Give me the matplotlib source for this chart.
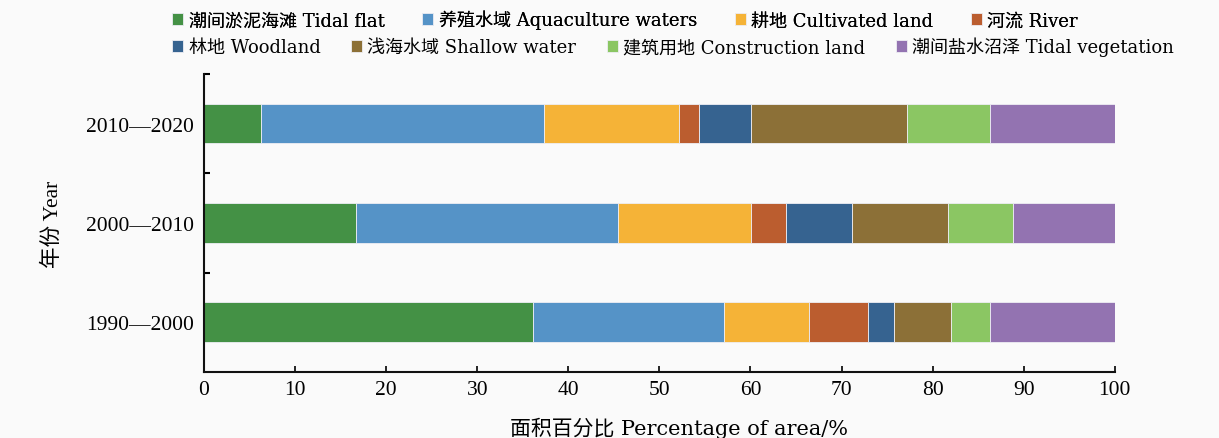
import numpy as np
import matplotlib.pyplot as plt

# periods, bottom to top
years = ['1990—2000', '2000—2010', '2010—2020']

# land types (legend order)
names = ['潮间淤泥海滩 Tidal flat', '养殖水域 Aquaculture waters', '耕地 Cultivated land',
         '河流 River', '林地 Woodland', '浅海水域 Shallow water',
         '建筑用地 Construction land', '潮间盐水沼泽 Tidal vegetation']
colors = ['#449145', '#5593c7', '#f5b337', '#bb5d2f', '#366390', '#8c7037', '#8bc663', '#9373b1']

# percentage of area per type, one value per period (1990-2000, 2000-2010, 2010-2020)
tidal_flat   = [36.1, 16.7, 6.3]
aquaculture  = [21.0, 28.7, 31.0]
cultivated   = [9.3, 14.7, 14.8]
river        = [6.5, 3.8, 2.3]
woodland     = [2.9, 7.2, 5.7]
shallow      = [6.2, 10.6, 17.1]
construction = [4.3, 7.1, 9.1]
vegetation   = [13.7, 11.2, 13.7]

series = [tidal_flat, aquaculture, cultivated, river, woodland, shallow, construction, vegetation]

serif = 'Liberation Serif'
fam = ['Liberation Serif', 'Noto Sans CJK SC']
fam_x = ['DejaVu Serif', 'Noto Sans CJK SC']

fig = plt.figure(figsize=(12.19, 4.39), dpi=100, facecolor='#fafafa')
ax = fig.add_axes([0.1674, 0.1503, 0.7471, 0.679])
ax.set_facecolor('#fafafa')

y = np.arange(len(years))
left = np.zeros(len(years))
bars = []
for vals, name, c in zip(series, names, colors):
    b = ax.barh(y, vals, left=left, height=0.4, color=c, edgecolor='#eeeef4', linewidth=0.6, label=name)
    bars.append(b)
    left += np.array(vals)

ax.set_xlim(0, 100)
ax.set_ylim(-0.5, 2.5)
ax.set_xticks(np.arange(0, 101, 10))
ax.set_yticks(y)
ax.set_yticklabels(years)
ax.set_yticks([0.5, 1.5, 2.5], minor=True)

for s in ['top', 'right']:
    ax.spines[s].set_visible(False)
for s in ['left', 'bottom']:
    ax.spines[s].set_linewidth(1.5)
    ax.spines[s].set_color('#111111')

ax.tick_params(axis='x', direction='in', length=4, width=1.2, pad=6)
ax.tick_params(axis='y', which='major', length=0, pad=7)
ax.tick_params(axis='y', which='minor', direction='in', length=4, width=1.5)
for lab in ax.get_xticklabels() + ax.get_yticklabels():
    lab.set_fontfamily(serif)
    lab.set_fontsize(15.5)

ax.set_xlabel('面积百分比 Percentage of area/%', family=fam_x, fontsize=15)
ax.xaxis.set_label_coords(0.522, -0.187)
ax.xaxis.label.set_va('center')
ax.set_ylabel('年份 Year', family=fam, fontsize=15.5, labelpad=17)

# two legend rows, like a wrapped legend
leg_kw = dict(ncol=4, loc='center left', frameon=False, prop={'family': fam_x, 'size': 13},
              handlelength=0.6, handleheight=0.6, handletextpad=0.3, borderpad=0)
leg1 = fig.legend(bars[:4], names[:4], bbox_to_anchor=(0.134, 0.953), columnspacing=2.1, **leg_kw)
leg2 = fig.legend(bars[4:], names[4:], bbox_to_anchor=(0.134, 0.892), columnspacing=1.7, **leg_kw)
fig.add_artist(leg1)

fig.savefig('out.png', dpi=100, facecolor=fig.get_facecolor())
